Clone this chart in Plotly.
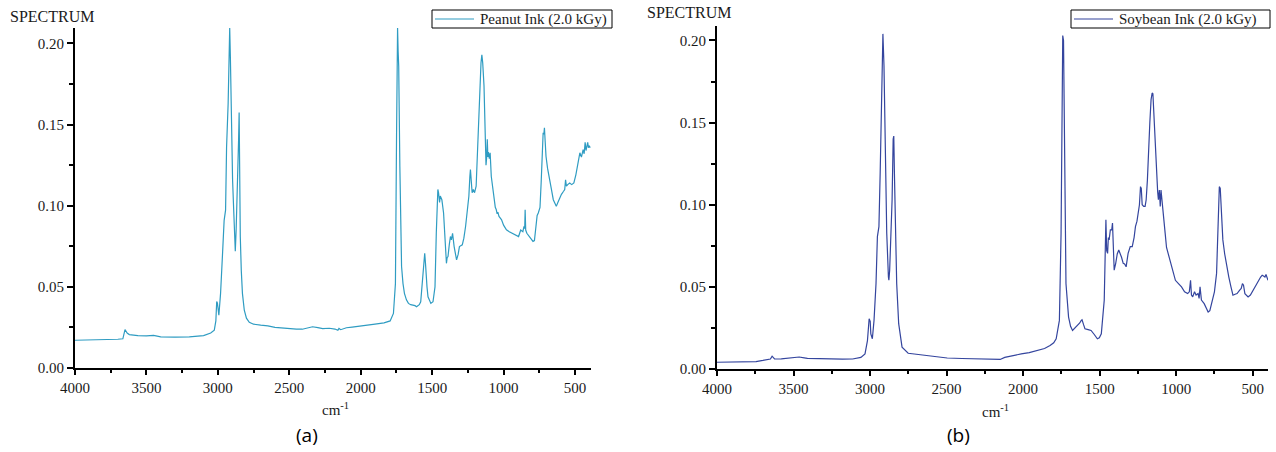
import plotly.graph_objects as go

# ---------------- Peanut ink (2.0 kGy) FTIR spectrum ----------------
peanut_wavenumber = [
    4000, 3900, 3800, 3700, 3665, 3650, 3635, 3620, 3560, 3500, 3450, 3400,
    3300, 3200, 3100, 3050, 3025, 3014, 3008, 3003, 2993, 2981, 2967, 2956,
    2946, 2939, 2928, 2921, 2917, 2912, 2907, 2902, 2897, 2890, 2884, 2878,
    2872, 2866, 2860, 2855, 2851, 2847, 2843, 2836, 2828, 2815, 2800, 2780,
    2750, 2700, 2650, 2600, 2523, 2450, 2409, 2370, 2337, 2300, 2266, 2220,
    2180, 2160, 2152, 2140, 2100, 2060, 2037, 2000, 1952, 1900, 1837, 1794,
    1771, 1757, 1749, 1745, 1742, 1738, 1734, 1726, 1714, 1704, 1694, 1680,
    1666, 1650, 1637, 1620, 1609, 1590, 1580, 1566, 1556, 1552, 1547, 1543,
    1536, 1529, 1509, 1494, 1480, 1471, 1465, 1460, 1455, 1448, 1443, 1432,
    1420, 1409, 1400, 1395, 1389, 1380, 1372, 1365, 1357, 1346, 1337, 1329,
    1318, 1309, 1289, 1278, 1266, 1254, 1243, 1236, 1232, 1226, 1220, 1212,
    1203, 1192, 1186, 1180, 1172, 1166, 1158, 1152, 1146, 1137, 1129, 1123,
    1118, 1114, 1110, 1106, 1100, 1094, 1086, 1076, 1066, 1058, 1051, 1045,
    1040, 1032, 1020, 1014, 1000, 980, 960, 937, 920, 909, 895, 880, 865,
    857, 852, 849, 845, 837, 822, 809, 794, 784, 774, 765, 757, 745, 737,
    729, 723, 718, 714, 709, 703, 692, 680, 665, 652, 640, 631, 620, 609,
    595, 580, 572, 566, 560, 551, 537, 523, 508, 494, 480, 466, 455, 443,
    436, 429, 423, 417, 411, 406, 400, 394, 390,
]
peanut_absorbance = [
    0.0171, 0.0172, 0.0174, 0.0177, 0.0180, 0.0237, 0.0215, 0.0206, 0.0200, 0.0198, 0.0201, 0.0192,
    0.0190, 0.0192, 0.0200, 0.0216, 0.0233, 0.0290, 0.0410, 0.0400, 0.0325, 0.0460, 0.0708, 0.0910,
    0.0973, 0.1360, 0.1630, 0.2095, 0.2095, 0.1900, 0.1600, 0.1426, 0.1160, 0.0994, 0.0810, 0.0720,
    0.0850, 0.1000, 0.1150, 0.1400, 0.1575, 0.1100, 0.0810, 0.0600, 0.0460, 0.0356, 0.0307, 0.0282,
    0.0270, 0.0264, 0.0260, 0.0250, 0.0243, 0.0240, 0.0239, 0.0245, 0.0254, 0.0249, 0.0243, 0.0245,
    0.0240, 0.0232, 0.0244, 0.0236, 0.0248, 0.0252, 0.0254, 0.0258, 0.0264, 0.0270, 0.0278, 0.0290,
    0.0336, 0.0520, 0.1450, 0.2095, 0.2095, 0.1950, 0.1860, 0.1240, 0.0625, 0.0520, 0.0460, 0.0420,
    0.0398, 0.0390, 0.0388, 0.0384, 0.0377, 0.0390, 0.0408, 0.0580, 0.0690, 0.0707, 0.0650, 0.0580,
    0.0500, 0.0439, 0.0398, 0.0408, 0.0500, 0.0830, 0.1080, 0.1100, 0.1080, 0.1020, 0.1060, 0.1037,
    0.0955, 0.0790, 0.0645, 0.0680, 0.0687, 0.0760, 0.0810, 0.0790, 0.0830, 0.0748, 0.0700, 0.0666,
    0.0700, 0.0748, 0.0759, 0.0800, 0.0872, 0.0960, 0.1058, 0.1180, 0.1223, 0.1150, 0.1080, 0.1100,
    0.1080, 0.1120, 0.1250, 0.1450, 0.1650, 0.1760, 0.1880, 0.1930, 0.1880, 0.1740, 0.1410, 0.1250,
    0.1300, 0.1410, 0.1300, 0.1330, 0.1290, 0.1326, 0.1180, 0.1100, 0.1037, 0.0990, 0.0975, 0.0950,
    0.0960, 0.0934, 0.0920, 0.0913, 0.0880, 0.0852, 0.0840, 0.0830, 0.0820, 0.0820, 0.0810, 0.0850,
    0.0840, 0.0872, 0.0860, 0.0975, 0.0850, 0.0830, 0.0810, 0.0800, 0.0780, 0.0785, 0.0893, 0.0940,
    0.0955, 0.0990, 0.1140, 0.1300, 0.1450, 0.1440, 0.1480, 0.1400, 0.1305, 0.1230, 0.1160, 0.1100,
    0.1037, 0.1010, 0.0996, 0.1020, 0.1047, 0.1070, 0.1089, 0.1100, 0.1160, 0.1120, 0.1130, 0.1140,
    0.1130, 0.1140, 0.1190, 0.1260, 0.1326, 0.1300, 0.1346, 0.1320, 0.1390, 0.1340, 0.1370, 0.1390,
    0.1357, 0.1370, 0.1357,
]

# ---------------- Soybean ink (2.0 kGy) FTIR spectrum ----------------
soybean_wavenumber = [
    4000, 3900, 3800, 3758, 3745, 3700, 3651, 3640, 3624, 3580, 3543, 3500,
    3463, 3430, 3409, 3330, 3248, 3180, 3114, 3060, 3033, 3017, 3006, 2999,
    2995, 2985, 2974, 2961, 2952, 2942, 2934, 2926, 2920, 2916, 2909, 2901,
    2891, 2880, 2877, 2872, 2867, 2856, 2849, 2845, 2841, 2837, 2826, 2813,
    2791, 2751, 2700, 2657, 2600, 2550, 2496, 2400, 2308, 2240, 2174, 2150,
    2120, 2080, 2050, 2012, 1960, 1905, 1860, 1824, 1800, 1784, 1763, 1752,
    1746, 1741, 1736, 1730, 1720, 1703, 1690, 1677, 1660, 1650, 1630, 1620,
    1615, 1605, 1596, 1575, 1556, 1535, 1515, 1502, 1489, 1470, 1462, 1459,
    1454, 1448, 1443, 1438, 1430, 1421, 1416, 1410, 1405, 1395, 1385, 1375,
    1368, 1357, 1346, 1337, 1327, 1314, 1300, 1287, 1275, 1266, 1256, 1247,
    1240, 1233, 1228, 1222, 1212, 1203, 1196, 1188, 1180, 1172, 1164, 1157,
    1152, 1148, 1142, 1137, 1128, 1121, 1116, 1110, 1104, 1099, 1094, 1088,
    1080, 1072, 1063, 1053, 1040, 1032, 1018, 1005, 985, 965, 945, 925,
    914, 906, 900, 892, 880, 870, 857, 850, 844, 835, 817, 804, 791, 780,
    770, 763, 750, 736, 729, 723, 718, 712, 707, 702, 695, 683, 670, 656,
    642, 629, 615, 602, 585, 575, 567, 560, 551, 540, 530, 515, 495, 475,
    460, 448, 438, 427, 420, 413, 406, 400,
]
soybean_absorbance = [
    0.0041, 0.0041, 0.0041, 0.0041, 0.0045, 0.0052, 0.0061, 0.0078, 0.0061, 0.0062, 0.0065, 0.0068,
    0.0073, 0.0068, 0.0065, 0.0063, 0.0059, 0.0060, 0.0061, 0.0071, 0.0092, 0.0173, 0.0306, 0.0290,
    0.0214, 0.0184, 0.0296, 0.0520, 0.0806, 0.0867, 0.1190, 0.1640, 0.2030, 0.2040, 0.1847, 0.1235,
    0.0827, 0.0560, 0.0540, 0.0600, 0.0704, 0.1030, 0.1400, 0.1418, 0.1200, 0.1030, 0.0520, 0.0276,
    0.0133, 0.0096, 0.0090, 0.0086, 0.0080, 0.0075, 0.0067, 0.0064, 0.0061, 0.0060, 0.0055, 0.0058,
    0.0071, 0.0080, 0.0086, 0.0092, 0.0100, 0.0112, 0.0125, 0.0143, 0.0160, 0.0184, 0.0296, 0.0827,
    0.1700, 0.2030, 0.2000, 0.1439, 0.0520, 0.0316, 0.0260, 0.0235, 0.0250, 0.0265, 0.0280, 0.0296,
    0.0300, 0.0270, 0.0245, 0.0240, 0.0235, 0.0210, 0.0184, 0.0190, 0.0214, 0.0418, 0.0700, 0.0908,
    0.0720, 0.0704, 0.0800, 0.0786, 0.0847, 0.0847, 0.0888, 0.0700, 0.0602, 0.0643, 0.0700, 0.0724,
    0.0710, 0.0680, 0.0643, 0.0640, 0.0622, 0.0704, 0.0745, 0.0745, 0.0800, 0.0867, 0.0900, 0.0949,
    0.1000, 0.1110, 0.1100, 0.1000, 0.0990, 0.0990, 0.1030, 0.1150, 0.1357, 0.1500, 0.1640, 0.1680,
    0.1675, 0.1600, 0.1439, 0.1300, 0.1150, 0.1080, 0.1030, 0.1090, 0.0990, 0.1090, 0.1040, 0.0990,
    0.0900, 0.0827, 0.0740, 0.0704, 0.0660, 0.0622, 0.0580, 0.0540, 0.0520, 0.0500, 0.0470, 0.0459,
    0.0470, 0.0540, 0.0450, 0.0439, 0.0470, 0.0450, 0.0459, 0.0430, 0.0500, 0.0420, 0.0398, 0.0370,
    0.0347, 0.0355, 0.0390, 0.0418, 0.0470, 0.0582, 0.0800, 0.1030, 0.1110, 0.1100, 0.0990, 0.0900,
    0.0786, 0.0700, 0.0620, 0.0560, 0.0500, 0.0449, 0.0455, 0.0459, 0.0480, 0.0490, 0.0520, 0.0510,
    0.0459, 0.0445, 0.0439, 0.0450, 0.0480, 0.0510, 0.0540, 0.0560, 0.0571, 0.0565, 0.0560, 0.0575,
    0.0545, 0.0540,
]

series_names = ["Peanut Ink (2.0 kGy)", "Soybean Ink (2.0 kGy)"]
series_colors = ["#2f9cc2", "#34459e"]

W, H = 1276, 452
SERIF = "Liberation Serif"
SANS = "Open Sans"
TEXT = "#1a1a1a"


def px_x(x):
    return x / W


def px_y(y):
    return (H - y) / H


fig = go.Figure()
fig.add_trace(go.Scatter(
    x=peanut_wavenumber, y=peanut_absorbance, mode="lines",
    name=series_names[0], line=dict(color=series_colors[0], width=1.2),
    xaxis="x", yaxis="y", showlegend=False,
))
fig.add_trace(go.Scatter(
    x=soybean_wavenumber, y=soybean_absorbance, mode="lines",
    name=series_names[1], line=dict(color=series_colors[1], width=1.2),
    xaxis="x2", yaxis="y2", showlegend=False,
))

tick_font = dict(family=SERIF, size=15, color=TEXT)
common_x = dict(
    dtick=500, tick0=0, ticks="outside", ticklen=5, tickwidth=1.5, tickcolor="black",
    minor=dict(dtick=250, ticks="outside", ticklen=3, tickwidth=1.5, tickcolor="black"),
    showline=True, linewidth=2, linecolor="black", showgrid=False, zeroline=False,
    tickfont=tick_font, fixedrange=True, automargin=False,
)
common_y = dict(
    dtick=0.05, tick0=0, tickformat=".2f", ticks="outside", ticklen=6, tickwidth=1.5,
    tickcolor="black",
    minor=dict(dtick=0.025, ticks="outside", ticklen=4, tickwidth=1.5, tickcolor="black"),
    showline=True, linewidth=2, linecolor="black", showgrid=False, zeroline=False,
    tickfont=tick_font, fixedrange=True, automargin=False,
)

fig.update_layout(
    width=W, height=H, autosize=False,
    margin=dict(l=0, r=0, t=0, b=0, pad=0),
    paper_bgcolor="white", plot_bgcolor="white",
    font=dict(family=SERIF, size=15, color=TEXT),
    showlegend=False,
    xaxis=dict(common_x, domain=[px_x(75), px_x(591)], range=[4000, 388], anchor="y"),
    yaxis=dict(common_y, domain=[px_y(368), px_y(28)], range=[0, 0.2095], anchor="x"),
    xaxis2=dict(common_x, domain=[px_x(717), px_x(1268)], range=[4000, 400], anchor="y2"),
    yaxis2=dict(common_y, domain=[px_y(369), px_y(26)], range=[0, 0.2088], anchor="x2"),
)

# Boxed legend for each panel: frame, line sample and series name
legend_boxes = [(432, 612), (1071, 1270)]
for (left, right), name, color in zip(legend_boxes, series_names, series_colors):
    fig.add_shape(type="rect", xref="paper", yref="paper",
                  x0=px_x(left), x1=px_x(right), y0=px_y(28), y1=px_y(10),
                  line=dict(color="black", width=1), fillcolor="white", layer="above")
    fig.add_shape(type="line", xref="paper", yref="paper",
                  x0=px_x(left + 3), x1=px_x(left + 42), y0=px_y(19), y1=px_y(19),
                  line=dict(color=color, width=1.2), layer="above")
    fig.add_annotation(text=name, x=px_x(left + 46), y=px_y(19.5), xref="paper", yref="paper",
                       xanchor="left", yanchor="middle", showarrow=False,
                       font=dict(family=SERIF, size=15, color=TEXT))

annotations = [
    ("SPECTRUM", 8, 16, "left", SERIF, 16),
    ("SPECTRUM", 645, 13, "left", SERIF, 16),
    ("cm<sup>-1</sup>", 335, 409, "center", SERIF, 15),
    ("cm<sup>-1</sup>", 995, 411, "center", SERIF, 15),
    ("(a)", 307, 435, "center", SANS, 19),
    ("(b)", 958, 435, "center", SANS, 19),
]
for text, x, y, anchor, family, size in annotations:
    fig.add_annotation(
        text=text, x=px_x(x), y=px_y(y), xref="paper", yref="paper",
        xanchor=anchor, yanchor="middle", showarrow=False,
        font=dict(family=family, size=size, color="black" if family == SANS else TEXT),
    )

fig.write_html("out.html", config=dict(displayModeBar=False))
